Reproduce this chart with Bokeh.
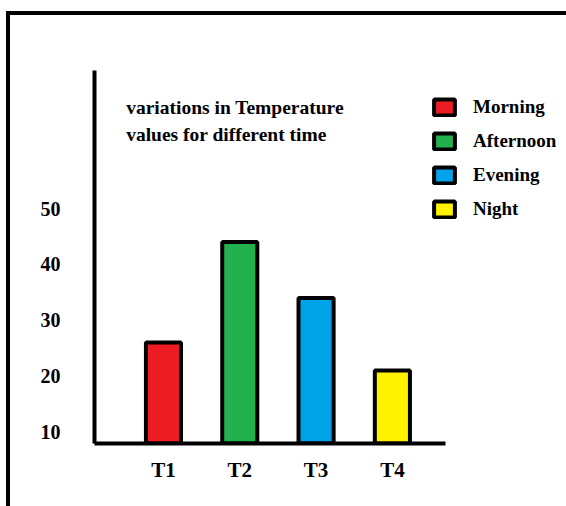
from bokeh.plotting import figure
from bokeh.models import (ColumnDataSource, Range1d, FixedTicker, Label,
                          Legend, LegendItem)
from bokeh.embed import file_html
from bokeh.resources import INLINE

# ---- data ----
slots = ["T1", "T2", "T3", "T4"]
periods = ["Morning", "Afternoon", "Evening", "Night"]
temps = [26, 44, 34, 21]
colors = ["#ED1C24", "#22B14C", "#00A2E8", "#FFF200"]
y_ticks = [10, 20, 30, 40, 50]
title_lines = ["variations in Temperature", "values for different time"]

FONT = "Liberation Serif"
BASE = 7.94          # value at which the horizontal axis is drawn
X0, X1 = -0.904, 3.696   # extent of the drawn horizontal axis

idx = list(range(len(slots)))
source = ColumnDataSource(dict(
    x=idx, top=temps, bottom=[BASE] * len(temps),
    color=colors, period=periods, slot=slots))

p = figure(width=566, height=506, output_backend="svg", toolbar_location=None,
           x_range=Range1d(X0, 5.282), y_range=Range1d(BASE, 74.7),
           min_border_left=94, min_border_right=0,
           min_border_top=70, min_border_bottom=63)

p.outline_line_color = None
p.grid.visible = False
p.background_fill_alpha = 0
p.border_fill_alpha = 0
p.styles = {
    "background-image": "linear-gradient(#000,#000), linear-gradient(#000,#000)",
    "background-size": "100% 4px, 4px 100%",
    "background-position": "6px 11px, 6px 11px",
    "background-repeat": "no-repeat",
}

r = p.vbar(x="x", top="top", bottom="bottom", width=0.46, source=source,
           fill_color="color", line_color="black", line_width=4)

# axes
for ax in (p.xaxis[0], p.yaxis[0]):
    ax.axis_line_width = 4
    ax.axis_line_color = "black"
    ax.major_tick_line_color = None
    ax.minor_tick_line_color = None
    ax.major_label_text_font = FONT
    ax.major_label_text_font_style = "bold"
    ax.major_label_text_color = "black"

p.xaxis.bounds = (X0, X1)
p.xaxis.ticker = FixedTicker(ticks=idx)
p.xaxis.major_label_overrides = {i: s for i, s in zip(idx, slots)}
p.xaxis.major_label_standoff = 8
p.xaxis.major_label_text_font_size = "21px"
p.yaxis.ticker = FixedTicker(ticks=y_ticks)
p.yaxis.major_label_standoff = 28
p.yaxis.major_label_text_font_size = "20px"

# title text inside the plot area
for line, yv in zip(title_lines, [68.1, 63.2]):
    p.add_layout(Label(x=-0.489, y=yv, text=line, text_font=FONT,
                       text_font_style="bold", text_font_size="19.5px",
                       text_color="black", text_baseline="alphabetic"))

# legend
items = [LegendItem(label=periods[i], renderers=[r], index=i) for i in idx]
legend = Legend(items=items, location=(337, 223),
                glyph_width=26, glyph_height=20, label_height=20,
                label_standoff=16, spacing=12, padding=0, margin=0,
                border_line_alpha=0, background_fill_alpha=0,
                label_text_font=FONT, label_text_font_style="bold",
                label_text_font_size="19px", label_text_color="black")
p.add_layout(legend, "center")

open("out.html", "w").write(file_html(p, INLINE))
